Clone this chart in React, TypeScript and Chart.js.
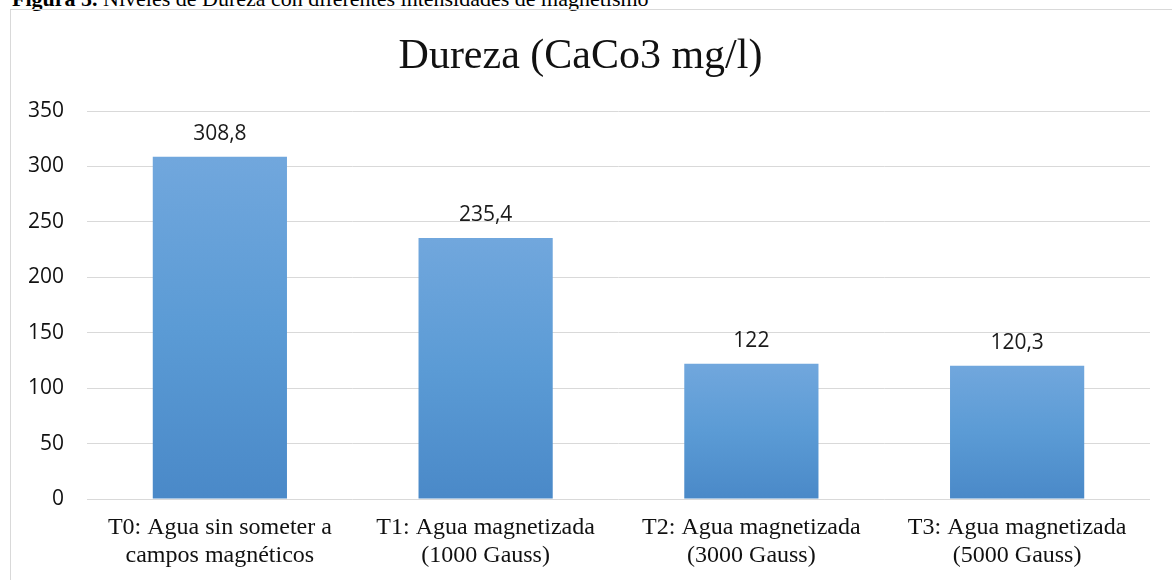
import React, { useEffect, useRef } from "react";
import { Chart, registerables } from "chart.js";

Chart.register(...registerables);

const categories: string[][] = [
  ["T0: Agua sin someter a", "campos magnéticos"],
  ["T1: Agua magnetizada", "(1000 Gauss)"],
  ["T2: Agua magnetizada", "(3000 Gauss)"],
  ["T3: Agua magnetizada", "(5000 Gauss)"],
];
const durezaValues: number[] = [308.8, 235.4, 122, 120.3];
const yTicks: number[] = [0, 50, 100, 150, 200, 250, 300, 350];
const chartTitle = "Dureza (CaCo3 mg/l)";
const captionBold = "Figura 5.";
const captionText = " Niveles de Dureza con diferentes intensidades de magnetismo";

const SERIF = "'Liberation Serif', 'Times New Roman', serif";
const SANS = "'Open Sans', 'Noto Sans', sans-serif";

const dataLabelPlugin = {
  id: "dataLabels",
  afterDatasetsDraw(chart: any) {
    const ctx = chart.ctx;
    const meta = chart.getDatasetMeta(0);
    ctx.save();
    ctx.font = `21px ${SANS}`;
    ctx.fillStyle = "#1a1a1a";
    ctx.textAlign = "center";
    ctx.textBaseline = "alphabetic";
    meta.data.forEach((bar: any, i: number) => {
      const v = durezaValues[i];
      const txt = String(v).replace(".", ",");
      ctx.fillText(txt, bar.x, bar.y - 17);
    });
    ctx.restore();
  },
};

export default function App() {
  const canvasRef = useRef<HTMLCanvasElement | null>(null);

  useEffect(() => {
    const canvas = canvasRef.current;
    if (!canvas) return;
    const chart = new Chart(canvas, {
      type: "bar",
      data: {
        labels: categories,
        datasets: [
          {
            label: chartTitle,
            data: durezaValues,
            categoryPercentage: 1,
            barPercentage: 0.505,
            borderWidth: 0,
            backgroundColor: (c: any) => {
              const ch = c.chart;
              const ys = ch.scales && ch.scales.y;
              if (!ys || c.dataIndex === undefined) return "#5b9bd5";
              const v = durezaValues[c.dataIndex];
              const top = ys.getPixelForValue(v);
              const bottom = ys.getPixelForValue(0);
              if (!isFinite(top) || !isFinite(bottom) || top === bottom) return "#5b9bd5";
              const g = ch.ctx.createLinearGradient(0, top, 0, bottom);
              g.addColorStop(0, "#71a7dd");
              g.addColorStop(0.5, "#5b9bd5");
              g.addColorStop(1, "#4a89c8");
              return g;
            },
          },
        ],
      },
      options: {
        animation: false,
        responsive: false,
        maintainAspectRatio: false,
        layout: { padding: { left: 0, right: 29, top: 0, bottom: 0 } },
        plugins: {
          legend: { display: false },
          tooltip: { enabled: false },
          title: {
            display: true,
            text: chartTitle,
            color: "#111",
            font: { family: SERIF, size: 42, weight: "normal", lineHeight: 1.2 },
            padding: { top: 22, bottom: 28.6 },
          },
        },
        scales: {
          x: {
            grid: { display: false, drawTicks: false },
            border: { display: false },
            ticks: {
              color: "#111",
              font: { family: SERIF, size: 24, lineHeight: 1.15 },
              padding: 15,
              maxRotation: 0,
              autoSkip: false,
            },
            afterFit: (scale: any) => {
              scale.height = 101;
            },
          },
          y: {
            min: 0,
            max: 350,
            afterBuildTicks: (scale: any) => {
              scale.ticks = yTicks.map((v) => ({ value: v }));
            },
            grid: { color: "#d9d9d9", lineWidth: 1, drawTicks: false },
            border: { display: false },
            ticks: {
              color: "#111",
              font: { family: SANS, size: 21 },
              padding: 23,
            },
            afterFit: (scale: any) => {
              scale.width = 76;
            },
          },
        },
      },
      plugins: [dataLabelPlugin],
    });
    return () => chart.destroy();
  }, []);

  return (
    <div
      style={{
        position: "fixed",
        left: 0,
        top: 0,
        width: 1172,
        height: 580,
        overflow: "hidden",
        background: "#fff",
      }}
    >
      <div
        style={{
          position: "absolute",
          left: 12,
          top: -12,
          fontFamily: SERIF,
          fontSize: 22,
          lineHeight: "22px",
          whiteSpace: "nowrap",
          color: "#000",
        }}
      >
        <b>{captionBold}</b>
        {captionText}
      </div>
      <div
        style={{
          position: "absolute",
          left: 10,
          top: 9,
          width: 1170,
          height: 600,
          border: "1px solid #d9d9d9",
          boxSizing: "border-box",
        }}
      >
        <canvas
          ref={canvasRef}
          width={1168}
          height={590}
          style={{ display: "block", width: 1168, height: 590 }}
        />
      </div>
    </div>
  );
}
